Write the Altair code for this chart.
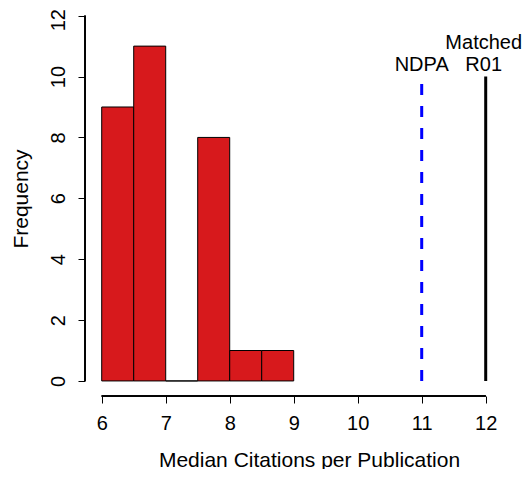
import altair as alt
import pandas as pd

# ---- data ----
bin_start = [6.0, 6.5, 7.0, 7.5, 8.0, 8.5]
bin_end = [6.5, 7.0, 7.5, 8.0, 8.5, 9.0]
counts = [9, 11, 0, 8, 1, 1]

ndpa_x = [11]
ndpa_top = [10]
r01_x = [12]
r01_top = [10]
label1_x = [11]
label1_text = ["NDPA"]
label2_x = [12]
label2_text = ["Matched\nR01"]

x_ticks = [6, 7, 8, 9, 10, 11, 12]
y_ticks = [0, 2, 4, 6, 8, 10, 12]

FONT = "Liberation Sans"
W, H = 435, 388
x_dom = [5.739, 5.739 + W / 64.0]
y_dom = [12.252 - H / 30.44, 12.252]

bars = pd.DataFrame({"start": bin_start, "end": bin_end, "count": counts})
bars["base"] = 0
ndpa = pd.DataFrame({"start": ndpa_x, "count": ndpa_top, "base": [0] * len(ndpa_x)})
r01 = pd.DataFrame({"start": r01_x, "count": r01_top, "base": [0] * len(r01_x)})
lab1 = pd.DataFrame({"start": label1_x, "label": label1_text, "count": ndpa_top})
lab2 = pd.DataFrame({"start": label2_x, "label": label2_text, "count": r01_top})

xscale = alt.Scale(domain=x_dom, nice=False, zero=False)
yscale = alt.Scale(domain=y_dom, nice=False, zero=False)

xaxis = alt.Axis(
    values=x_ticks, title="Median Citations per Publication", domain=False, grid=False,
    tickSize=7, tickColor="black", tickWidth=1, labelFontSize=20, labelColor="black",
    labelFont=FONT, labelPadding=10, labelFlush=False, labelOverlap=False,
    titleFont=FONT, titleFontSize=21, titleFontWeight="normal", titleColor="black",
    titleX=224, titleY=70, titleAlign="center", titleBaseline="alphabetic", format="d",
)
yaxis = alt.Axis(
    values=y_ticks, title="Frequency", domain=False, grid=False,
    tickSize=7, tickColor="black", tickWidth=1, labelFontSize=20, labelColor="black",
    labelFont=FONT, labelAngle=-90, labelAlign="center", labelBaseline="bottom",
    labelPadding=10, labelFlush=False, labelOverlap=False,
    labelOffset={"condition": {"test": "datum.value >= 12", "value": 4}, "value": 0},
    titleFont=FONT, titleFontSize=21, titleFontWeight="normal", titleColor="black",
    titleX=-57.5, titleY=190.5, titleAngle=-90, titleAlign="center", titleBaseline="alphabetic",
    format="d",
)

X = alt.X("start:Q", scale=xscale, axis=xaxis)
Y = alt.Y("base:Q", scale=yscale, axis=yaxis)
Ytop = alt.Y("count:Q", scale=yscale, axis=yaxis)

hist = alt.Chart(bars).mark_rect(fill="#D7191C", stroke="black", strokeWidth=1).encode(
    x=X, x2="end:Q", y=Y, y2="count:Q",
)

ndpa_line = alt.Chart(ndpa).mark_rule(color="#0000FF", strokeWidth=3, strokeDash=[11, 11]).encode(
    x=X, y=Y, y2="count:Q",
)
r01_line = alt.Chart(r01).mark_rule(color="black", strokeWidth=3).encode(
    x=X, y=Y, y2="count:Q",
)

text1 = alt.Chart(lab1).mark_text(
    font=FONT, fontSize=20, color="black", align="center", baseline="bottom", dy=-2,
).encode(x=X, y=Ytop, text="label:N")

text2 = alt.Chart(lab2).mark_text(
    font=FONT, fontSize=20, color="black", align="center", baseline="bottom",
    lineBreak="\n", lineHeight=22, dy=-24, dx=-2,
).encode(x=X, y=Ytop, text="label:N")

x_domain_line = alt.Chart(bars).mark_rule(color="black", strokeWidth=1).encode(
    x=alt.X(datum=x_ticks[0], scale=xscale, axis=xaxis),
    x2=alt.X2(datum=x_ticks[-1]),
    y=alt.value(H),
)
y_domain_line = alt.Chart(bars).mark_rule(color="black", strokeWidth=1).encode(
    y=alt.Y(datum=y_ticks[0], scale=yscale, axis=yaxis),
    y2=alt.Y2(datum=y_ticks[-1]),
    x=alt.value(0),
)

chart = alt.layer(
    hist, ndpa_line, r01_line, text1, text2, x_domain_line, y_domain_line
).properties(
    width=W, height=H,
    background="white",
    autosize=alt.AutoSizeParams(type="none"),
    padding={"left": 77, "top": 0, "right": 3, "bottom": 73},
).configure_view(strokeWidth=0)

chart.save("out.html", embed_options={"renderer": "svg", "actions": False})
